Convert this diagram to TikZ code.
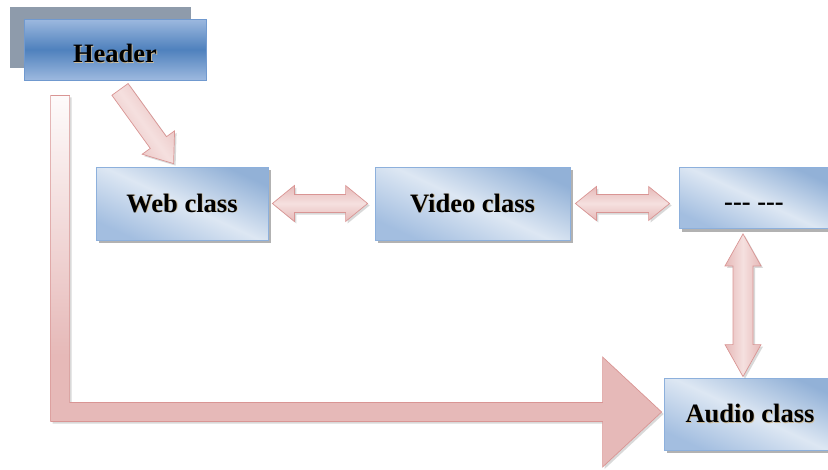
\documentclass[tikz,border=0pt]{standalone}
\usepackage{fontspec}
\setmainfont{Liberation Serif}
\usetikzlibrary{calc,shadows,backgrounds}

\definecolor{boxlight}{HTML}{DDE7F3}
\definecolor{boxdark}{HTML}{92B1D7}
\definecolor{boxmid}{HTML}{A3BEE0}
\definecolor{boxline}{HTML}{8DB0DC}
\definecolor{headtop}{HTML}{9DB9DF}
\definecolor{headmid}{HTML}{4F81BD}
\definecolor{headline}{HTML}{7099CF}
\definecolor{headback}{HTML}{8E9BAB}
\definecolor{arrowfill}{HTML}{E6B9B8}
\definecolor{arrowlight}{HTML}{F5E0DF}
\definecolor{arrowline}{HTML}{D99594}
\definecolor{textglow}{HTML}{A88A50}

% white at the top of the long bent arrow, full pink from the elbow down
\pgfdeclareverticalshading{bentshade}{100bp}{color(0bp)=(arrowfill); color(40bp)=(arrowfill); color(75bp)=(white!94!arrowfill); color(100bp)=(white!94!arrowfill)}

% thick single-headed arrow from #2 to #3
\newcommand{\fatsingle}[6]{% #1 style, #2 start, #3 tip, #4 half shaft, #5 half head, #6 head length
  \coordinate (fs-h) at ($(#3)!#6!(#2)$);
  \path[#1] ($(#2)!#4!90:(#3)$) -- ($(fs-h)!#4!-90:(#2)$) -- ($(fs-h)!#5!-90:(#2)$) -- (#3)
    -- ($(fs-h)!#5!90:(#2)$) -- ($(fs-h)!#4!90:(#2)$) -- ($(#2)!#4!-90:(#3)$) -- cycle;}

% thick double-headed arrow between tips #2 and #3
\newcommand{\fatdouble}[6]{% #1 style, #2 tip a, #3 tip b, #4 half shaft, #5 half head, #6 head length
  \coordinate (fd-a) at ($(#2)!#6!(#3)$);
  \coordinate (fd-b) at ($(#3)!#6!(#2)$);
  \path[#1] (#2) -- ($(fd-a)!#5!90:(#3)$) -- ($(fd-a)!#4!90:(#3)$) -- ($(fd-b)!#4!-90:(#2)$)
    -- ($(fd-b)!#5!-90:(#2)$) -- (#3) -- ($(fd-b)!#5!90:(#2)$) -- ($(fd-b)!#4!90:(#2)$)
    -- ($(fd-a)!#4!-90:(#3)$) -- ($(fd-a)!#5!-90:(#3)$) -- cycle;}

% text lowered inside its block without changing the block size
\newcommand{\lowered}[2]{\raisebox{#1}[0pt][0pt]{#2}}
% label with a soft warm shadow behind the letters
\newcommand{\glowtext}[1]{\rlap{\hspace{0.9pt}\raisebox{-0.8pt}{\textcolor{textglow!60}{#1}}}#1}

\tikzset{
  label font/.style={font=\fontsize{26.5}{31}\selectfont\bfseries},
  classbox/.style={draw=boxline, line width=0.8pt, inner sep=0pt, label font,
    top color=boxdark, bottom color=boxmid, middle color=boxlight, shading angle=-25,
    drop shadow={shadow xshift=3pt, shadow yshift=-3pt, fill=black, opacity=0.3}},
  headbox/.style={draw=headline, line width=0.8pt, inner sep=0pt, label font,
    top color=headtop, bottom color=headtop, middle color=headmid},
  arrowbase/.style={draw=arrowline, line width=0.7pt, line join=miter,
    drop shadow={shadow xshift=2pt, shadow yshift=-2pt, fill=black, opacity=0.15}},
  harrow/.style={arrowbase, top color=arrowfill, bottom color=arrowfill, middle color=arrowlight},
  varrow/.style={arrowbase, left color=arrowfill, right color=arrowfill, middle color=arrowlight},
  darrow/.style={arrowbase, top color=arrowfill, bottom color=arrowfill, middle color=arrowlight, shading angle=-54},
  bentarrow/.style={arrowbase, shading=bentshade},
}

\begin{document}
\begin{tikzpicture}[x=1pt, y=-1pt]
\useasboundingbox (0,0) rectangle (828,469);

% blocks
\node[headbox, minimum width=182pt, minimum height=61pt] (header) at (115,49.5) {\lowered{-13pt}{\glowtext{Header}}};
\node[classbox, minimum width=172pt, minimum height=73pt] (web) at (182,203.5) {\glowtext{Web class}};
\node[classbox, minimum width=195pt, minimum height=73pt] (video) at (472.5,203.5) {\glowtext{Video class}};
\node[classbox, minimum width=150pt, minimum height=61pt] (dots) at (754,198) {\lowered{-12pt}{{-}{-}{-} {-}{-}{-}}};
\node[classbox, minimum width=172pt, minimum height=72pt] (audio) at (750,414) {\glowtext{Audio class}};

% grey plate behind the header
\begin{scope}[on background layer]
  \fill[headback] ($(header.north west)+(-14,-12)$) rectangle ($(header.south east)+(-15,-12)$);
\end{scope}

% header -> web class
\coordinate (hw-a) at ($(header.south)+(5,9)$);
\coordinate (hw-b) at ($(web.north west)+(78,-3)$);
\fatsingle{darrow}{hw-a}{hw-b}{10pt}{20pt}{26pt}

% web <-> video
\coordinate (wv-a) at ($(web.east)+(4,0)$);
\coordinate (wv-b) at ($(video.west)+(-7,0)$);
\fatdouble{harrow}{wv-a}{wv-b}{9pt}{18pt}{22pt}

% video <-> dots
\coordinate (vd-a) at ($(video.east)+(5,0)$);
\coordinate (vd-b) at ($(dots.west |- video.east)+(-9,0)$);
\fatdouble{harrow}{vd-a}{vd-b}{9pt}{17pt}{21pt}

% dots <-> audio
\coordinate (da-a) at ($(dots.south)+(-11,5)$);
\coordinate (da-b) at ($(audio.north)+(-7,-1)$);
\fatdouble{varrow}{da-a}{da-b}{10pt}{18pt}{32pt}

% long bent arrow from the header down and across to audio class
\coordinate (l-top) at ($(header.south west)+(36.5,15)$);
\coordinate (l-tip) at ($(audio.west)+(-2,-2)$);
\coordinate (l-bend) at (l-top |- l-tip);
\path[bentarrow] ($(l-top)+(-9.5,0)$) -- ($(l-top)+(9.5,0)$) -- ($(l-bend)+(9.5,-9.5)$)
  -- ($(l-tip)+(-59,-9.5)$) -- ($(l-tip)+(-59,-55)$) -- (l-tip) -- ($(l-tip)+(-59,55)$)
  -- ($(l-tip)+(-59,9.5)$) -- ($(l-bend)+(-9.5,9.5)$) -- cycle;
\end{tikzpicture}
\end{document}
